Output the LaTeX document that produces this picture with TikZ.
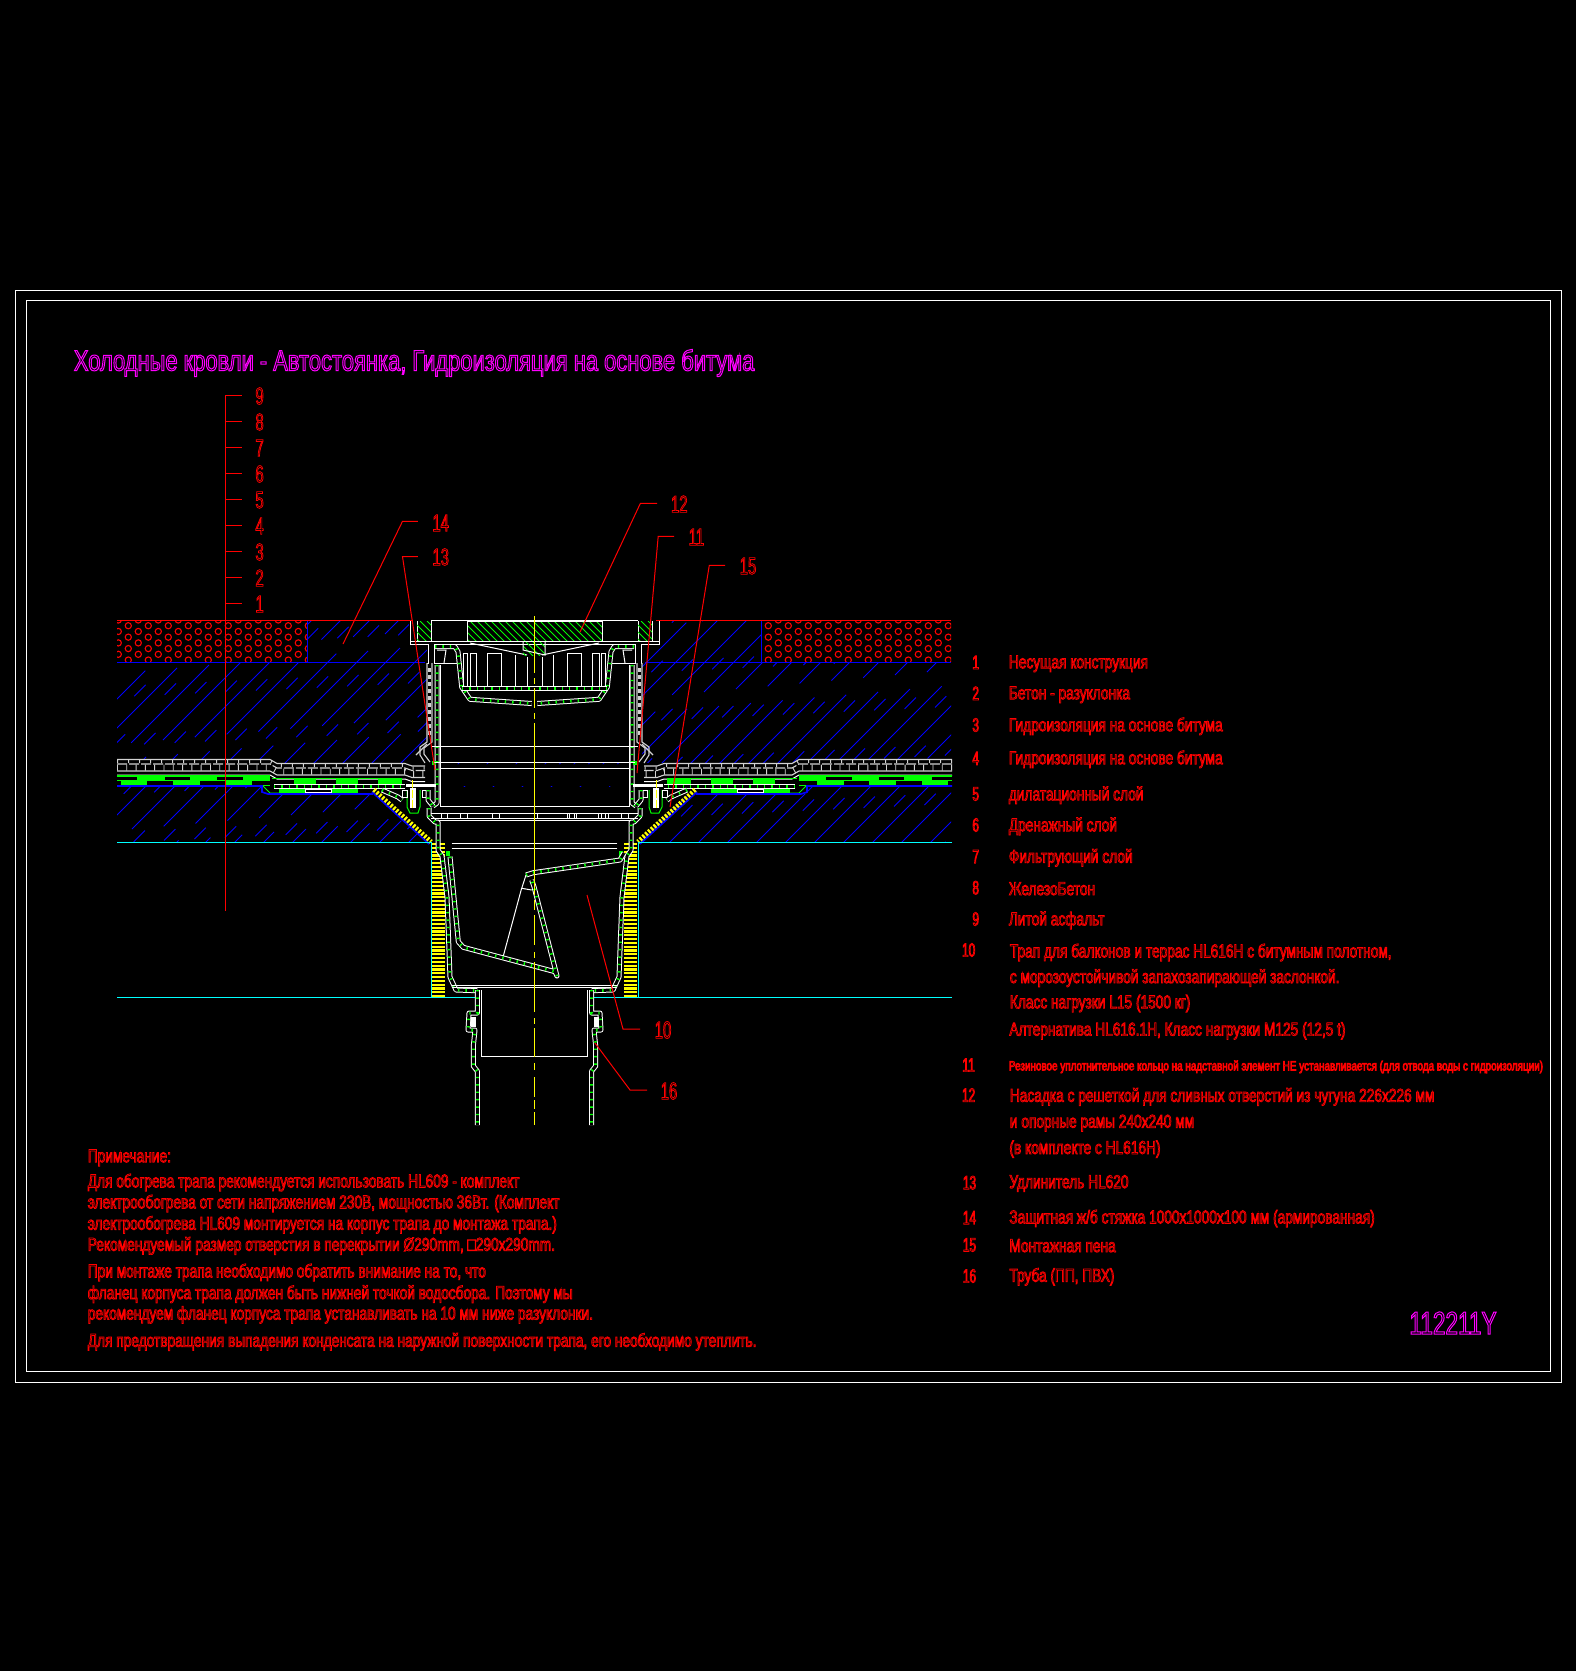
\documentclass[tikz,border=0pt]{standalone}
\usepackage{fontspec}
\newfontfamily\cadfont[FakeStretch=0.737]{Liberation Sans}
\newfontfamily\cadnarrow[FakeStretch=0.62]{Liberation Sans}
\newfontfamily\cadtitle[FakeStretch=0.756]{Liberation Sans}
\newfontfamily\cadcode[FakeStretch=0.707]{Liberation Sans}
\newcommand\outlined{\special{pdf:code 1 Tr 0.36 w}}
\newcommand\outlinedbig{\special{pdf:code 1 Tr 0.5 w}}
\definecolor{cyan}{RGB}{0,255,255}
\definecolor{magenta}{RGB}{255,0,255}
\definecolor{yellow}{RGB}{255,255,0}
\colorlet{cadgrey}{gray!35!white}

\tikzset{
  legendtext/.style={anchor=west,inner sep=0,yshift=-.4pt,text=red,font=\cadfont\outlined\fontsize{9.3}{11}\selectfont},
  legendsmall/.style={anchor=west,inner sep=0,yshift=-.4pt,text=red,font=\cadfont\outlined\fontsize{6.72}{8}\selectfont},
  legendnum/.style={inner sep=0,text=red,font=\cadnarrow\outlined\fontsize{9.6}{11}\selectfont},
  callout/.style={inner sep=0,text=red,font=\cadnarrow\outlined\fontsize{12}{14}\selectfont},
  leader/.style={red,line width=.5pt},
  frameline/.style={white,line width=.5pt},
  wallout/.style={white,line width=2.5pt,line join=round},
  wallin/.style={black,line width=1.5pt,line join=round},
  wallhatch/.style={green,line width=1.5pt,dash pattern=on .7pt off 3pt},
  thinwhite/.style={white,line width=.5pt},
  thingrey/.style={cadgrey,line width=.55pt},
  foam/.style={yellow,dash pattern=on 1.1pt off .8pt},
  concrete/.style={blue,line width=.5pt},
  edgecyan/.style={cyan,line width=.5pt},
}

% wall of the drain body: white outline, green hatching between
\newcommand\plastic[1]{\draw[wallout] #1;\draw[wallin] #1;\draw[wallhatch] #1;}
\newcommand\greenhatch[4]{%
  \begin{scope}
    \clip (#1,#2) rectangle (#3,#4);
    \foreach \c in {-25,-18,...,145} \draw[green,line width=.5pt] ({#1+\c},#2) -- ({#1+\c+30},{#2+30});
  \end{scope}}
\newcommand\bandline[1]{(117,{759.5+#1}) -- (270,{759.5+#1}) -- (277,{763.5+#1}) -- (405,{763.5+#1}) -- (412,{766+#1}) -- (425,{766+#1})}

% one half of the section, used twice
\newcommand\halfsection{%
  % membrane layers
  \fill[black] (117,759) -- (270,759) -- (277,763) -- (430,763) -- (430,793.5) -- (263,793.5) -- (263,786) -- (117,786) -- cycle;
  \draw[thingrey] \bandline{0};
  \draw[thingrey,dash pattern=on 5pt off 1pt] \bandline{4.5};
  \draw[thingrey] \bandline{11.5};
  \draw[white,line width=.5pt] \bandline{15.5};
  \draw[cadgrey,line width=1.5pt,dash pattern=on .5pt off 5pt] \bandline{2};
  \draw[cadgrey,line width=3pt,dash pattern=on .45pt off 4.2pt] \bandline{8};
  \foreach \a/\b in {137.3/165,190/216.7,243.3/270} \fill[green] (\a,775.7) rectangle (\b,780.7);
  \foreach \a/\b in {120.7/147.3,172.7/200,225/252} \fill[green] (\a,780.7) rectangle (\b,785.7);
  \draw[green,line width=.7pt] (117,776) -- (270,776) (117,780.7) -- (270,780.7) (120,785.7) -- (270,785.7);
  \foreach \a/\b in {294/316,336/358,378/401.7} \fill[green] (\a,778.3) rectangle (\b,784);
  \draw[green,line width=.7pt] (272,778.5) -- (402,778.5);
  \foreach \a/\b in {279/305.7,331.7/358.3} \fill[green] (\a,789) rectangle (\b,793);
  \draw[white,line width=.5pt] (305.7,789) rectangle (331.7,792);
  \plastic{(274,786.5) -- (405,786.5)}
  \draw[green,line width=.5pt] (263,786) -- (270,793) -- (279,793);
  \draw[concrete,line width=.8pt] (117,786) -- (262,786) -- (262,792) -- (268,794) -- (373,794);
  % foam and edges
  \draw[foam,line width=2.6pt] (373.6,790) -- (431,842);
  \draw[concrete,line width=.8pt] (372,792) -- (429,844);
  \draw[foam,line width=6.5pt] (438.5,843) -- (438.5,997);
  \draw[edgecyan] (117,842) -- (431,842) -- (431,997.3);
  \draw[edgecyan] (117,997.3) -- (477,997.3);
  % top frame
  \draw[thinwhite] (410,621) -- (410,641.7) (417,621) -- (417,641.7) (431,621) -- (431,641.7);
  \draw[thinwhite] (410,641.7) -- (410,644) -- (428,644) -- (428,663) -- (427,663);
  \draw[thinwhite] (434,644) -- (434,663.3) -- (456.7,663.3);
  \draw[thinwhite] (437,650) -- (446,650) -- (444,663);
  % outer grey sleeve and collar
  \draw[thingrey] (427,663) -- (427,742) -- (420,747) -- (420,755) -- (425,763);
  \draw[thingrey] (432,663) -- (432,742) -- (424,748) -- (424,754) -- (430,762);
  \draw[cadgrey,line width=1.2pt,dash pattern=on 2pt off 1.5pt] (429.5,668) -- (429.5,738);
  \draw[thingrey] (416,755) -- (427,744);
  % body wall
  \plastic{(437,665) -- (437,803) -- (433,806)}
  \draw[thinwhite] (440,665) -- (440,806.7) -- (534.5,806.7);
  \fill[green] (432,760.5) rectangle (436,765);
  % flange and bolt
  \fill[white] (406,784.3) rectangle (436,786.7);
  \fill[white] (410,788) rectangle (416,808);
  \draw[green,line width=.5pt] (407,790) -- (407,807) -- (410,813) -- (418,813) -- (420,807) -- (420,790);
  \draw[yellow,line width=.7pt,dash pattern=on 4pt off 1pt] (412.7,780) -- (412.7,810);
  \draw[thinwhite] (402,790) rectangle (407,797) (422,790) rectangle (427,797);
  \plastic{(382,790) -- (398,797) -- (402,800)}
  \plastic{(428,790) -- (428,800) -- (433,806)}
  % lower body
  \plastic{(429,808) -- (429,816) -- (435,822) -- (438,822) -- (438,850) -- (442,856) -- (447,897) -- (450,977) -- (456,990) -- (477.3,990.7)}
  \draw[thinwhite] (431,813.3) -- (534.5,813.3) (431,818) -- (534.5,818);
  \draw[thinwhite] (440,820) -- (534.5,820);
  \draw[thinwhite] (441,813) rectangle (447.7,818);
  \foreach \x in {464,496} \draw[thinwhite] ({\x-3.5},813) rectangle ({\x+3.5},818);
  \draw[thinwhite] (451.7,843.3) -- (534.5,843.3) (451.7,848.3) -- (534.5,848.3);
  \draw[thinwhite] (451.7,985) -- (534.5,985) (451.7,987) -- (534.5,987);
  \fill[green] (446,851) rectangle (450,855.5);
  % tail pipe and socket
  \plastic{(477.3,990) -- (477.3,1013) -- (469,1013) -- (468,1030) -- (475,1030) -- (473.3,1046) -- (473.3,1066) -- (477.3,1071) -- (477.3,1125)}
  \draw[thinwhite] (481.7,990) -- (481.7,1056.7) -- (534.5,1056.7);
  \fill[white] (470.5,1017) rectangle (475.5,1027);
  % strainer basket
  \plastic{(435,646.7) -- (455,646.7) -- (458,651.7) -- (461.7,687) -- (470,699.3) -- (531.7,703.5)}
  \plastic{(461.7,688) -- (534.5,688)}
  \draw[thinwhite] (463.3,686) -- (463.3,653) -- (467.6,653) -- (467.6,686);
  \draw[thinwhite] (470,686) -- (470,653) -- (476.7,653) -- (476.7,686);
  \draw[thinwhite] (487.3,686) -- (487.3,653) -- (501.7,653) -- (501.7,686);
  \draw[thinwhite] (515.7,655) -- (515.7,686) (527,657) -- (527,686);
  \draw[thinwhite] (470,643) -- (527,655);
}

\begin{document}
\begin{tikzpicture}[x=.5pt,y=-.5pt]
  \useasboundingbox (0,0) rectangle (1576,1671);
  \fill[black] (0,0) rectangle (1576,1671);
  \draw[frameline] (15,290) rectangle (1561.5,1382);
  \draw[frameline] (26,300.5) rectangle (1550,1371);

  % concrete hatching
  \begin{scope}
    \clip (117,662.3) rectangle (951,764) (307.5,621) rectangle (761,662.3) (117,786) rectangle (951,842);
    \foreach \c in {700,729,...,1800}{
      \pgfmathsetmacro\ph{mod(\c*7,67)}
      \draw[concrete,dash pattern=on 55pt off 12pt,dash phase=\ph pt] ({\c-600},600) -- ({\c-860},860);
      \pgfmathsetmacro\ph{mod(\c*5,36)}
      \draw[concrete,dash pattern=on 8pt off 28pt,dash phase=\ph pt] ({\c-585.5},600) -- ({\c-845.5},860);
    }
  \end{scope}
  % cast asphalt
  \begin{scope}
    \clip (117,621) rectangle (307.5,662.3) (761,621) rectangle (951,662.3);
    \foreach \r in {0,2,...,8}{
      \foreach \k in {0,...,41}{
        \draw[red,line width=.55pt] ({128.3+20*\k},{625.7+5.72*\r}) circle (3.1);
        \draw[red,line width=.55pt] ({118.3+20*\k},{620+5.72*\r}) circle (3.1);
      }
    }
  \end{scope}
  \draw[red,line width=.5pt] (117,620.7) -- (413,620.7) (656,620.7) -- (951,620.7);
  \draw[blue,line width=.6pt] (117,662.3) -- (425,662.3) (645,662.3) -- (951,662.3);
  \draw[blue,line width=.5pt] (307.5,621) -- (307.5,662.3) (761,621) -- (761,662.3);

  % the opening
  \fill[black] (409,621) -- (660,621) -- (660,644) -- (642,644) -- (642,763) -- (427,763) -- (427,644) -- (409,644) -- cycle;
  \fill[black] (373,787) -- (431,842) -- (431,1000) -- (638,1000) -- (638,842) -- (696,787) -- cycle;

  \halfsection
  \begin{scope}[shift={(1069,0)},xscale=-1]
    \halfsection
  \end{scope}

  % top of the drain
  \greenhatch{417}{621}{431}{641.7}
  \greenhatch{638}{621}{652}{641.7}
  \greenhatch{467}{621}{602}{641.7}
  \draw[thinwhite] (467,621) rectangle (602,641.7);
  \draw[thinwhite] (431,620.7) -- (638,620.7);
  \draw[thinwhite] (410,641.7) -- (659,641.7);
  \draw[thinwhite] (434,644) -- (635,644);
  \greenhatch{523}{642}{545}{655}
  \draw[thinwhite] (523,642) -- (523,650) -- (545,655) -- (545,642);
  \draw[thinwhite] (431,746) -- (638,746);
  \draw[thinwhite] (434,762.3) -- (635,762.3);
  \draw[thinwhite] (440,768.3) -- (629,768.3);
  \draw[thinwhite] (534,813) rectangle (537,818);
  \foreach \x in {570.7,601.7} \draw[thinwhite] ({\x-3.5},813) rectangle ({\x+3.5},818);

  % flap
  \plastic{(450,856.7) -- (458.3,941.7) -- (463.3,947.3) -- (555,971.7) -- (557,976) -- (534,886.7) -- (531.7,880)}
  \plastic{(526,875) -- (533.3,872.7) -- (620,860) -- (624,853)}
  \draw[thinwhite] (526,875) -- (521.7,888.3) -- (531.7,890);
  \draw[thinwhite] (521.7,888) -- (503.3,956);

  % axis
  \foreach \a/\b in {616/673,678/684,688/708,713/719,723/895,900/910,915/945,952/958,962/1012,1018/1024,1028/1057,1063/1070,1077/1097,1100/1109,1112/1125}
    \draw[yellow,line width=.7pt] (534.5,\a) -- (534.5,\b);

  % leaders
  \coordinate (l14) at (343,644);
  \coordinate (l13) at (435,770);
  \coordinate (l12) at (580,632);
  \coordinate (l11) at (637,773);
  \coordinate (l15) at (670,807);
  \coordinate (l10) at (587,895);
  \coordinate (l16) at (595,1043);
  \node[callout] (c14) at (440.7,523) {14};
  \node[callout] (c13) at (440.7,557) {13};
  \node[callout] (c12) at (679.3,504) {12};
  \node[callout] (c11) at (696.4,537) {11};
  \node[callout] (c15) at (748,566) {15};
  \node[callout] (c10) at (663,1030) {10};
  \node[callout] (c16) at (669,1091) {16};
  \draw[leader] (l14) -- (402.5,521.3) -- (417.9,521.3);
  \draw[leader] (l13) -- (402.5,556.7) -- (417.9,556.7);
  \draw[leader] (l12) -- (640.4,503.3) -- (657,503.3);
  \draw[leader] (l11) -- (658.2,536.3) -- (674,536.3);
  \draw[leader] (l15) -- (709.3,565.3) -- (725,565.3);
  \draw[leader] (l10) -- (623,1029) -- (640,1029);
  \draw[leader] (l16) -- (630,1090) -- (647,1090);

  % layer scale
  \draw[leader] (225.7,395.3) -- (225.7,911);
  \foreach \n [count=\i from 0] in {9,8,...,1}{
    \draw[leader] (225.7,{395.3+26*\i}) -- (241.8,{395.3+26*\i});
    \node[callout] (s\n) at (259.6,{396+26*\i}) {\n};
  }

  \node[anchor=west,inner sep=0,text=magenta,font=\cadtitle\outlinedbig\fontsize{14.5}{17}\selectfont] (title) at (73.5,363) {Холодные кровли - Автостоянка, Гидроизоляция на основе битума};
  \node[anchor=west,inner sep=0,text=magenta,font=\cadcode\outlinedbig\fontsize{16}{18}\selectfont] (code) at (1409,1323) {112211Y};

  % legend
  \node[legendnum] (n1) at (975.7,662.3) {1};
  \node[legendnum] (n2) at (975.7,693.3) {2};
  \node[legendnum] (n3) at (975.7,725) {3};
  \node[legendnum] (n4) at (975.7,758.3) {4};
  \node[legendnum] (n5) at (975.7,794) {5};
  \node[legendnum] (n6) at (975.7,825) {6};
  \node[legendnum] (n7) at (975.7,856.7) {7};
  \node[legendnum] (n8) at (975.7,887.7) {8};
  \node[legendnum] (n9) at (975.7,919) {9};
  \node[legendnum] (n10) at (968.6,950) {10};
  \node[legendnum] (n11) at (968.6,1065) {11};
  \node[legendnum] (n12) at (968.6,1095) {12};
  \node[legendnum] (n13) at (969.5,1182.7) {13};
  \node[legendnum] (n14) at (969.5,1217.7) {14};
  \node[legendnum] (n15) at (969.5,1245) {15};
  \node[legendnum] (n16) at (969.5,1276) {16};
  \node[legendtext] (t1) at (1008.5,663) {Несущая конструкция};
  \node[legendtext] (t2) at (1008.5,694) {Бетон - разуклонка};
  \node[legendtext] (t3) at (1008.5,725.5) {Гидроизоляция на основе битума};
  \node[legendtext] (t4) at (1008.5,758.5) {Гидроизоляция на основе битума};
  \node[legendtext] (t5) at (1008.5,794.5) {дилатационный слой};
  \node[legendtext] (t6) at (1008.5,825.5) {Дренажный слой};
  \node[legendtext] (t7) at (1008.5,857) {Фильтрующий слой};
  \node[legendtext] (t8) at (1008.5,888) {ЖелезоБетон};
  \node[legendtext] (t9) at (1008.5,919.5) {Литой асфальт};
  \node[legendtext] (t10a) at (1009.5,951.7) {Трап для балконов и террас HL616H с битумным полотном,};
  \node[legendtext] (t10b) at (1009.5,977.3) {с морозоустойчивой запахозапирающей заслонкой.};
  \node[legendtext] (t10c) at (1009.5,1002.7) {Класс нагрузки L15 (1500 кг)};
  \node[legendtext] (t10d) at (1009,1030) {Алтернатива HL616.1H, Класс нагрузки M125 (12,5 t)};
  \node[legendsmall] (t11) at (1008.5,1066) {Резиновое уплотнительное кольцо на надставной элемент НЕ устанавливается (для отвода воды с гидроизоляции)};
  \node[legendtext] (t12a) at (1009.5,1096) {Насадка с решеткой для сливных отверстий из чугуна 226x226 мм};
  \node[legendtext] (t12b) at (1009.5,1122.3) {и опорные рамы 240x240 мм};
  \node[legendtext] (t12c) at (1009,1148.3) {(в комплекте с HL616H)};
  \node[legendtext] (t13) at (1009,1182.7) {Удлинитель HL620};
  \node[legendtext] (t14) at (1009,1217.7) {Защитная ж/б стяжка 1000x1000x100 мм (армированная)};
  \node[legendtext] (t15) at (1009,1245) {Монтажная пена};
  \node[legendtext] (t16) at (1009,1276) {Труба (ПП, ПВХ)};

  % notes
  \node[legendtext] (note0) at (87.4,1157) {Примечание:};
  \node[legendtext] (note1) at (87.4,1181.7) {Для обогрева трапа рекомендуется использовать HL609 - комплект};
  \node[legendtext] (note2) at (87.4,1202.7) {электрообогрева от сети напряжением 230В, мощностью 36Вт. (Комплект};
  \node[legendtext] (note3) at (87.4,1224) {электрообогрева HL609 монтируется на корпус трапа до монтажа трапа.)};
  \node[legendtext] (note4) at (87.4,1245) {Рекомендуемый размер отверстия в перекрытии Ø290mm, □290x290mm.};
  \node[legendtext] (note5) at (87.4,1271.7) {При монтаже трапа необходимо обратить внимание на то, что};
  \node[legendtext] (note6) at (87.4,1293.3) {фланец корпуса трапа должен быть нижней точкой водосбора. Поэтому мы};
  \node[legendtext] (note7) at (87.4,1314) {рекомендуем фланец корпуса трапа устанавливать на 10 мм ниже разуклонки.};
  \node[legendtext] (note8) at (87.4,1341) {Для предотвращения выпадения конденсата на наружной поверхности трапа, его необходимо утеплить.};
\end{tikzpicture}
\end{document}
